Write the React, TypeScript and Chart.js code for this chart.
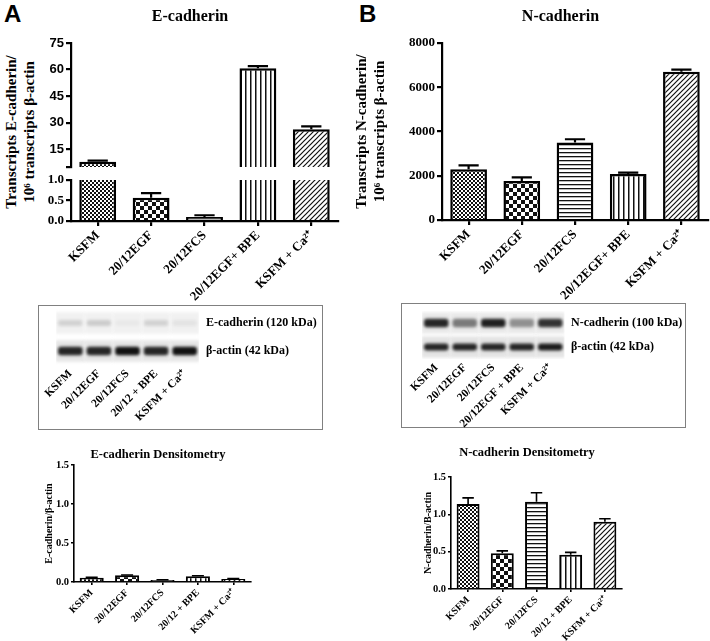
import React, { useEffect, useRef } from 'react';
import { Chart, registerables } from 'chart.js';

Chart.register(...registerables);

const SERIF = "'Liberation Serif', 'Times New Roman', serif";
const SANS = "'Liberation Sans', Arial, sans-serif";

// ---------------- data ----------------
const qpcrCategories = ['KSFM', '20/12EGF', '20/12FCS', '20/12EGF+ BPE', 'KSFM + Ca²⁺'];

const eCadValues = [8.0, 0.57, 0.1, 60.8, 26.3];
const eCadErrors = [0.6, 0.11, 0.04, 1.2, 1.6];
const eCadBreakValue = 5;
const eCadUpperMax = 75;
const eCadUpperTicks = [15, 30, 45, 60, 75];
const eCadLowerMax = 1;
const eCadLowerTicks = [0, 0.5, 1.0];

const nCadValues = [2290, 1760, 3500, 2080, 6700];
const nCadErrors = [180, 170, 150, 60, 100];
const nCadMax = 8000;
const nCadTicks = [0, 2000, 4000, 6000, 8000];

const blotLanesE = ['KSFM', '20/12EGF', '20/12FCS', '20/12 + BPE', 'KSFM + Ca²⁺'];
const blotRowsE = ['β-actin (42 kDa)', 'E-cadherin (120 kDa)'];
const blotEActinBand = [0.88, 0.88, 0.97, 0.88, 0.97];
const blotECadBand = [0.13, 0.16, 0.03, 0.13, 0.06];

const blotLanesN = ['KSFM', '20/12EGF', '20/12FCS', '20/12EGF + BPE', 'KSFM + Ca²⁺'];
const blotRowsN = ['β-actin (42 kDa)', 'N-cadherin (100 kDa)'];
const blotNActinBand = [0.88, 0.88, 0.88, 0.88, 0.92];
const blotNCadBand = [0.88, 0.5, 0.9, 0.4, 0.82];

const densCategories = ['KSFM', '20/12EGF', '20/12FCS', '20/12 + BPE', 'KSFM + Ca²⁺'];
const densMax = 1.5;
const densTicks = [0, 0.5, 1.0, 1.5];
const eDensValues = [0.055, 0.085, 0.025, 0.075, 0.04];
const eDensErrors = [0.005, 0.005, 0.004, 0.005, 0.004];
const nDensValues = [1.14, 0.48, 1.17, 0.46, 0.9];
const nDensErrors = [0.08, 0.03, 0.12, 0.03, 0.04];

// ---------------- styles ----------------
const patternKinds = ['fine', 'checker', 'hlines', 'vlines', 'diag'];

function makePattern(kind: string): any {
  const c = document.createElement('canvas');
  const size = kind === 'checker' ? 8 : kind === 'vlines' || kind === 'diag' ? 5 : 4;
  c.width = size;
  c.height = size;
  const g = c.getContext('2d');
  if (!g) return '#888';
  g.fillStyle = '#fff';
  g.fillRect(0, 0, size, size);
  g.fillStyle = '#111';
  g.strokeStyle = '#111';
  if (kind === 'fine') {
    g.fillRect(0, 0, 2, 2);
    g.fillRect(2, 2, 2, 2);
  } else if (kind === 'checker') {
    g.fillRect(0, 0, 4, 4);
    g.fillRect(4, 4, 4, 4);
  } else if (kind === 'hlines') {
    g.fillRect(0, 0, size, 1.3);
  } else if (kind === 'vlines') {
    g.fillRect(0, 0, 1.5, size);
  } else if (kind === 'diag') {
    g.lineWidth = 1.2;
    g.beginPath();
    g.moveTo(0, 5);
    g.lineTo(5, 0);
    g.moveTo(-1, 1);
    g.lineTo(1, -1);
    g.moveTo(4, 6);
    g.lineTo(6, 4);
    g.stroke();
  }
  return g.createPattern(c, 'repeat');
}

function errorBars(errors: number[], capRatio: number, lineWidth: number) {
  return {
    id: 'errorBars',
    afterDatasetsDraw(chart: any) {
      const { ctx, chartArea } = chart;
      const yScale = chart.scales.y;
      const values = chart.data.datasets[0].data as number[];
      const meta = chart.getDatasetMeta(0);
      ctx.save();
      ctx.beginPath();
      ctx.rect(chartArea.left, chartArea.top, chartArea.right - chartArea.left, chartArea.bottom - chartArea.top);
      ctx.clip();
      ctx.strokeStyle = '#000';
      ctx.lineWidth = lineWidth;
      meta.data.forEach((bar: any, i: number) => {
        const y0 = yScale.getPixelForValue(values[i]);
        const y1 = yScale.getPixelForValue(values[i] + errors[i]);
        const half = (bar.width * capRatio) / 2;
        ctx.beginPath();
        ctx.moveTo(bar.x, y0);
        ctx.lineTo(bar.x, y1);
        ctx.moveTo(bar.x - half, y1);
        ctx.lineTo(bar.x + half, y1);
        ctx.stroke();
      });
      ctx.restore();
    },
  };
}

const blurPlugin = {
  id: 'blotBlur',
  beforeDatasetsDraw(chart: any) {
    chart.ctx.save();
    chart.ctx.filter = 'blur(1.4px)';
  },
  afterDatasetsDraw(chart: any) {
    chart.ctx.restore();
  },
};

function fixScale(size: number, horizontal: boolean) {
  return (s: any) => {
    if (horizontal) s.height = size;
    else s.width = size;
    s.paddingTop = 0;
    s.paddingBottom = 0;
    s.paddingLeft = 0;
    s.paddingRight = 0;
  };
}

type Box = { left: number; top: number; width: number; height: number };
type Area = { left: number; top: number; right: number; bottom: number };

function buildBarChart(canvas: HTMLCanvasElement, cfg: any): Chart {
  const box: Box = cfg.box;
  const area: Area = cfg.area;
  const aL = area.left - box.left;
  const aR = area.right - box.left;
  const aT = area.top - box.top;
  const aB = area.bottom - box.top;
  // a blank right-hand box shifts the centred title without moving the plot
  const rightW = cfg.title ? Math.max(0, 2 * (cfg.title.cx - box.left) - aR) : 0;
  const padRight = Math.max(0, box.width - aR - rightW);
  const yW = aL;
  const xH = box.height - aB;
  let padTop = aT;
  let titlePadding = { top: 0, bottom: 0 };
  if (cfg.title) {
    const lh = cfg.title.size * 1.2;
    const pt = cfg.title.cy - box.top - lh / 2;
    titlePadding = { top: pt, bottom: aT - pt - lh };
    padTop = 0;
  }
  const yTitlePad = cfg.yTitle ? cfg.yTitle.x - box.left - (cfg.yTitle.size * 1.2) / 2 : 0;

  const scales: any = {
    x: {
      display: cfg.showX,
      offset: true,
      grid: {
        display: true,
        drawOnChartArea: false,
        drawTicks: true,
        tickLength: cfg.tickLen,
        offset: false,
        color: '#000',
        lineWidth: cfg.axisWidth,
      },
      border: { display: true, color: '#000', width: cfg.axisWidth },
      ticks: {
        autoSkip: false,
        minRotation: 45,
        maxRotation: 45,
        color: '#000',
        padding: 2,
        font: { family: SERIF, size: cfg.xFont, weight: 'bold' },
      },
      afterFit: cfg.showX ? fixScale(xH, true) : undefined,
    },
    y: {
      min: cfg.yMin,
      max: cfg.yMax,
      grid: {
        display: true,
        drawOnChartArea: false,
        drawTicks: true,
        tickLength: cfg.tickLen,
        color: '#000',
        lineWidth: cfg.axisWidth,
      },
      border: { display: true, color: '#000', width: cfg.axisWidth },
      ticks: {
        color: '#000',
        padding: 2,
        font: { family: cfg.yFontFamily || SERIF, size: cfg.yFont, weight: 'bold' },
        callback: (v: any) => cfg.tickFmt(Number(v)),
      },
      afterBuildTicks: (s: any) => {
        s.ticks = cfg.yTicks.map((v: number) => ({ value: v }));
      },
      afterFit: fixScale(yW, false),
      title: cfg.yTitle
        ? {
            display: true,
            text: cfg.yTitle.lines,
            color: '#000',
            font: { family: SERIF, size: cfg.yTitle.size, weight: 'bold' },
            padding: { top: yTitlePad, bottom: 0 },
          }
        : { display: false },
    },
  };
  if (rightW > 0) {
    scales.ySpacer = {
      position: 'right',
      display: true,
      grid: { display: false, drawTicks: false },
      border: { display: false },
      ticks: { display: false },
      afterFit: fixScale(rightW, false),
    };
  }

  return new Chart(canvas, {
    type: 'bar',
    data: {
      labels: cfg.labels,
      datasets: [
        {
          data: cfg.values,
          backgroundColor: patternKinds.map(makePattern),
          borderColor: '#000',
          borderWidth: cfg.barBorder,
          borderSkipped: 'start',
          barPercentage: cfg.barPct,
          categoryPercentage: 1,
          clip: 0,
        } as any,
      ],
    },
    options: {
      responsive: false,
      animation: false,
      devicePixelRatio: 1,
      layout: { padding: { left: 0, right: padRight, top: padTop, bottom: cfg.showX ? 0 : xH } },
      plugins: {
        legend: { display: false },
        tooltip: { enabled: false },
        title: cfg.title
          ? {
              display: true,
              text: cfg.title.text,
              color: '#000',
              font: { family: SERIF, size: cfg.title.size, weight: 'bold' },
              padding: titlePadding,
            }
          : { display: false },
      },
      scales,
    } as any,
    plugins: [errorBars(cfg.errors, cfg.capRatio, cfg.axisWidth) as any],
  });
}

function buildBlot(canvas: HTMLCanvasElement, cfg: any): Chart {
  const box: Box = cfg.box;
  const area: Area = cfg.area;
  const aL = area.left - box.left;
  const aR = area.right - box.left;
  const aT = area.top - box.top;
  const aB = area.bottom - box.top;
  const rows: string[] = cfg.rows;
  const datasets: any[] = [];
  cfg.bands.forEach((band: number[], r: number) => {
    const h = cfg.bandHalf[r];
    datasets.push({
      data: cfg.lanes.map(() => [r - h, r + h]),
      backgroundColor: band.map((a) => `rgba(10,10,10,${a})`),
      borderWidth: 0,
      borderRadius: 3,
      borderSkipped: false,
      barPercentage: 0.86,
      categoryPercentage: 1,
      grouped: false,
      order: 1,
    });
    datasets.push({
      data: cfg.lanes.map(() => [r - cfg.membraneHalf, r + cfg.membraneHalf]),
      backgroundColor: cfg.membrane[r],
      borderWidth: 0,
      barPercentage: 1,
      categoryPercentage: 1,
      grouped: false,
      order: 2,
    });
  });
  return new Chart(canvas, {
    type: 'bar',
    data: { labels: cfg.lanes, datasets },
    options: {
      responsive: false,
      animation: false,
      devicePixelRatio: 1,
      layout: { padding: { left: aL, right: 0, top: aT, bottom: 0 } },
      plugins: { legend: { display: false }, tooltip: { enabled: false }, title: { display: false } },
      scales: {
        x: {
          offset: true,
          grid: { display: false, drawTicks: false },
          border: { display: false },
          ticks: {
            autoSkip: false,
            minRotation: 45,
            maxRotation: 45,
            color: '#000',
            padding: 2,
            font: { family: SERIF, size: 11.5, weight: 'bold' },
          },
          afterFit: fixScale(box.height - aB, true),
        },
        y: {
          position: 'right',
          min: -0.5,
          max: rows.length - 0.5,
          grid: { display: false, drawTicks: false },
          border: { display: false },
          ticks: {
            color: '#000',
            padding: cfg.labelGap,
            font: { family: SERIF, size: 12, weight: 'bold' },
            callback: (v: any) => rows[Number(v)] ?? '',
          },
          afterBuildTicks: (s: any) => {
            s.ticks = rows.map((_, i) => ({ value: i }));
          },
          afterFit: fixScale(box.width - aR, false),
        },
      },
    } as any,
    plugins: [blurPlugin as any],
  });
}

const geo = {
  aUp: { left: 0, top: 0, width: 380, height: 170 },
  aLow: { left: 0, top: 170, width: 345, height: 140 },
  b: { left: 353, top: 0, width: 415, height: 310 },
  blotA: { left: 38, top: 305, width: 285, height: 125 },
  blotB: { left: 401, top: 303, width: 285, height: 125 },
  densE: { left: 0, top: 435, width: 316, height: 206 },
  densN: { left: 360, top: 435, width: 340, height: 206 },
};

function canvasStyle(b: Box): React.CSSProperties {
  return { position: 'absolute', left: b.left, top: b.top, width: b.width, height: b.height };
}

export default function App() {
  const aUp = useRef<HTMLCanvasElement>(null);
  const aLow = useRef<HTMLCanvasElement>(null);
  const bRef = useRef<HTMLCanvasElement>(null);
  const blotA = useRef<HTMLCanvasElement>(null);
  const blotB = useRef<HTMLCanvasElement>(null);
  const densE = useRef<HTMLCanvasElement>(null);
  const densN = useRef<HTMLCanvasElement>(null);

  useEffect(() => {
    document.body.style.margin = '0';
    const charts: Chart[] = [];
    const common = { barBorder: 2.5, axisWidth: 2.2, tickLen: 5, capRatio: 0.55, barPct: 0.69, xFont: 13, yFont: 13 };

    if (aUp.current)
      charts.push(
        buildBarChart(aUp.current, {
          ...common,
          box: geo.aUp,
          area: { left: 71, top: 43, right: 338, bottom: 167 },
          labels: qpcrCategories,
          values: eCadValues,
          errors: eCadErrors,
          showX: false,
          yMin: eCadBreakValue,
          yMax: eCadUpperMax,
          yTicks: [eCadBreakValue, ...eCadUpperTicks],
          tickFmt: (v: number) => (v === eCadBreakValue ? '' : String(v)),
          yFontFamily: SANS,
          title: { text: 'E-cadherin', size: 16, cx: 190, cy: 16.5 },
        })
      );
    if (aLow.current)
      charts.push(
        buildBarChart(aLow.current, {
          ...common,
          box: geo.aLow,
          area: { left: 71, top: 180, right: 338, bottom: 221 },
          labels: qpcrCategories,
          values: eCadValues,
          errors: eCadErrors,
          showX: true,
          yMin: 0,
          yMax: eCadLowerMax,
          yTicks: eCadLowerTicks,
          tickFmt: (v: number) => v.toFixed(1),
        })
      );
    if (bRef.current)
      charts.push(
        buildBarChart(bRef.current, {
          ...common,
          box: geo.b,
          area: { left: 442, top: 43, right: 708, bottom: 220 },
          labels: qpcrCategories,
          values: nCadValues,
          errors: nCadErrors,
          showX: true,
          yMin: 0,
          yMax: nCadMax,
          yTicks: nCadTicks,
          tickFmt: (v: number) => String(v),
          title: { text: 'N-cadherin', size: 16, cx: 560.5, cy: 16.5 },
          yTitle: { lines: ['Transcripts N-cadherin/', '10⁶ transcripts β-actin'], size: 15, x: 362 },
        })
      );
    if (blotA.current)
      charts.push(
        buildBlot(blotA.current, {
          box: geo.blotA,
          area: { left: 56, top: 309, right: 199, bottom: 365 },
          lanes: blotLanesE,
          rows: blotRowsE,
          bands: [blotEActinBand, blotECadBand],
          bandHalf: [0.15, 0.11],
          membraneHalf: 0.37,
          membrane: ['#e6e6e6', '#f1f1f1'],
          labelGap: 7,
        })
      );
    if (blotB.current)
      charts.push(
        buildBlot(blotB.current, {
          box: geo.blotB,
          area: { left: 422, top: 311, right: 564.5, bottom: 359 },
          lanes: blotLanesN,
          rows: blotRowsN,
          bands: [blotNActinBand, blotNCadBand],
          bandHalf: [0.15, 0.18],
          membraneHalf: 0.43,
          membrane: ['#e4e4e4', '#eaeaea'],
          labelGap: 6.5,
        })
      );
    const dens = { barBorder: 2, axisWidth: 1.6, tickLen: 3, capRatio: 0.5, xFont: 10, yFont: 10.5 };
    if (densE.current)
      charts.push(
        buildBarChart(densE.current, {
          ...dens,
          barPct: 0.68,
          box: geo.densE,
          area: { left: 74, top: 465, right: 251, bottom: 582 },
          labels: densCategories,
          values: eDensValues,
          errors: eDensErrors,
          showX: true,
          yMin: 0,
          yMax: densMax,
          yTicks: densTicks,
          tickFmt: (v: number) => v.toFixed(1),
          title: { text: 'E-cadherin Densitometry', size: 12.5, cx: 158, cy: 455 },
          yTitle: { lines: ['E-cadherin/β-actin'], size: 10, x: 49 },
        })
      );
    if (densN.current)
      charts.push(
        buildBarChart(densN.current, {
          ...dens,
          barPct: 0.67,
          box: geo.densN,
          area: { left: 451, top: 477, right: 622, bottom: 589 },
          labels: densCategories,
          values: nDensValues,
          errors: nDensErrors,
          showX: true,
          yMin: 0,
          yMax: densMax,
          yTicks: densTicks,
          tickFmt: (v: number) => v.toFixed(1),
          title: { text: 'N-cadherin Densitometry', size: 12.5, cx: 527, cy: 453 },
          yTitle: { lines: ['N-cadherin/B-actin'], size: 10, x: 428 },
        })
      );
    return () => charts.forEach((c) => c.destroy());
  }, []);

  const letter: React.CSSProperties = {
    position: 'absolute',
    top: 2,
    fontFamily: SANS,
    fontWeight: 'bold',
    fontSize: 24,
    lineHeight: '24px',
  };

  const boxStyle = (b: Box): React.CSSProperties => ({
    position: 'absolute',
    left: b.left,
    top: b.top,
    width: b.width,
    height: b.height,
    border: '1px solid #808080',
    boxSizing: 'border-box',
  });

  return (
    <div style={{ position: 'relative', width: 710, height: 641, overflow: 'hidden', background: '#fff' }}>
      <div style={{ ...letter, left: 4 }}>A</div>
      <div style={{ ...letter, left: 359 }}>B</div>
      <div
        style={{
          position: 'absolute',
          left: 19.5 - 100,
          top: 132 - 18,
          width: 200,
          height: 36,
          lineHeight: '18px',
          fontFamily: SERIF,
          fontWeight: 'bold',
          fontSize: 15,
          textAlign: 'center',
          whiteSpace: 'nowrap',
          transform: 'rotate(-90deg)',
          transformOrigin: 'center',
        }}
      >
        Transcripts E-cadherin/
        <br />
        10⁶ transcripts β-actin
      </div>
      <div style={boxStyle(geo.blotA)} />
      <div style={boxStyle(geo.blotB)} />
      <canvas ref={aUp} width={geo.aUp.width} height={geo.aUp.height} style={canvasStyle(geo.aUp)} />
      <canvas ref={aLow} width={geo.aLow.width} height={geo.aLow.height} style={canvasStyle(geo.aLow)} />
      <canvas ref={bRef} width={geo.b.width} height={geo.b.height} style={canvasStyle(geo.b)} />
      <canvas ref={blotA} width={geo.blotA.width} height={geo.blotA.height} style={canvasStyle(geo.blotA)} />
      <canvas ref={blotB} width={geo.blotB.width} height={geo.blotB.height} style={canvasStyle(geo.blotB)} />
      <canvas ref={densE} width={geo.densE.width} height={geo.densE.height} style={canvasStyle(geo.densE)} />
      <canvas ref={densN} width={geo.densN.width} height={geo.densN.height} style={canvasStyle(geo.densN)} />
    </div>
  );
}
